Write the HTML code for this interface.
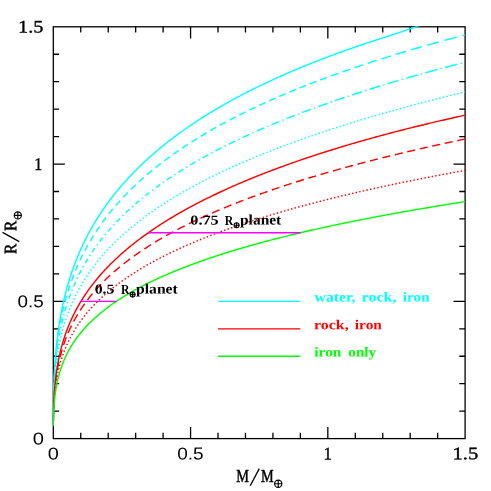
<!DOCTYPE html>
<html><head><meta charset="utf-8"><style>
html,body{margin:0;padding:0;background:#fff;}
body{width:491px;height:491px;overflow:hidden;position:relative;}
svg{position:absolute;left:0;top:0;will-change:transform;}
.sf{font-family:"Liberation Serif",serif;}
.ss{font-family:"Liberation Sans",sans-serif;}
</style></head><body>
<svg width="491" height="491" viewBox="0 0 491 491">
<rect width="491" height="491" fill="#fff"/>
<defs><clipPath id="cp"><rect x="52.65" y="26.15" width="413.10" height="413.10"/></clipPath></defs>
<g stroke="#000" stroke-width="1.3" fill="none">
<rect x="53.3" y="26.8" width="411.80" height="411.80"/>
<path d="M80.75,438.6v-5.8 M80.75,26.8v5.8 M53.3,411.15h5.8 M465.1,411.15h-5.8"/>
<path d="M108.21,438.6v-5.8 M108.21,26.8v5.8 M53.3,383.69h5.8 M465.1,383.69h-5.8"/>
<path d="M135.66,438.6v-5.8 M135.66,26.8v5.8 M53.3,356.24h5.8 M465.1,356.24h-5.8"/>
<path d="M163.11,438.6v-5.8 M163.11,26.8v5.8 M53.3,328.79h5.8 M465.1,328.79h-5.8"/>
<path d="M190.57,438.6v-11.6 M190.57,26.8v11.6 M53.3,301.33h11.6 M465.1,301.33h-11.6"/>
<path d="M218.02,438.6v-5.8 M218.02,26.8v5.8 M53.3,273.88h5.8 M465.1,273.88h-5.8"/>
<path d="M245.47,438.6v-5.8 M245.47,26.8v5.8 M53.3,246.43h5.8 M465.1,246.43h-5.8"/>
<path d="M272.93,438.6v-5.8 M272.93,26.8v5.8 M53.3,218.97h5.8 M465.1,218.97h-5.8"/>
<path d="M300.38,438.6v-5.8 M300.38,26.8v5.8 M53.3,191.52h5.8 M465.1,191.52h-5.8"/>
<path d="M327.83,438.6v-11.6 M327.83,26.8v11.6 M53.3,164.07h11.6 M465.1,164.07h-11.6"/>
<path d="M355.29,438.6v-5.8 M355.29,26.8v5.8 M53.3,136.61h5.8 M465.1,136.61h-5.8"/>
<path d="M382.74,438.6v-5.8 M382.74,26.8v5.8 M53.3,109.16h5.8 M465.1,109.16h-5.8"/>
<path d="M410.19,438.6v-5.8 M410.19,26.8v5.8 M53.3,81.71h5.8 M465.1,81.71h-5.8"/>
<path d="M437.65,438.6v-5.8 M437.65,26.8v5.8 M53.3,54.25h5.8 M465.1,54.25h-5.8"/>
</g>
<g clip-path="url(#cp)">
<path d="M53.31,425.36 L53.31,424.97 L53.31,424.58 L53.31,424.17 L53.31,423.76 L53.31,423.33 L53.32,422.89 L53.32,422.43 L53.32,421.97 L53.32,421.49 L53.32,420.99 L53.32,420.48 L53.33,419.96 L53.33,419.42 L53.33,418.87 L53.33,418.30 L53.34,417.71 L53.34,417.11 L53.34,416.49 L53.35,415.85 L53.35,415.19 L53.35,414.52 L53.36,413.82 L53.36,413.11 L53.37,412.37 L53.38,411.62 L53.38,410.84 L53.39,410.03 L53.40,409.21 L53.41,408.36 L53.42,407.49 L53.43,406.59 L53.44,405.67 L53.45,404.72 L53.47,403.74 L53.48,402.73 L53.50,401.70 L53.51,400.63 L53.53,399.54 L53.55,398.41 L53.58,397.25 L53.60,396.05 L53.63,394.83 L53.66,393.56 L53.69,392.27 L53.72,390.93 L53.76,389.55 L53.80,388.14 L53.85,386.68 L53.90,385.19 L53.95,383.65 L54.01,382.06 L54.07,380.43 L54.14,378.75 L54.21,377.03 L54.30,375.25 L54.38,373.43 L54.48,371.55 L54.59,369.62 L54.70,367.63 L54.83,365.59 L54.96,363.49 L55.11,361.33 L55.27,359.10 L55.45,356.81 L55.64,354.46 L55.85,352.04 L56.07,349.55 L56.32,347.00 L56.59,344.36 L56.88,341.66 L57.20,338.88 L57.55,336.01 L57.93,333.07 L58.34,330.05 L58.79,326.94 L59.28,323.74 L59.82,320.45 L60.40,317.08 L61.03,313.60 L61.72,310.03 L62.47,306.37 L63.29,302.60 L64.18,298.72 L65.15,294.74 L66.21,290.65 L67.08,287.43 L68.14,283.71 L69.21,280.17 L70.27,276.79 L71.33,273.55 L72.39,270.44 L73.45,267.45 L74.52,264.56 L75.58,261.78 L76.64,259.08 L77.70,256.47 L78.76,253.94 L79.83,251.48 L80.89,249.09 L81.95,246.76 L83.01,244.49 L84.08,242.28 L85.14,240.12 L86.20,238.01 L87.26,235.95 L88.32,233.93 L89.39,231.96 L90.45,230.03 L91.51,228.13 L92.57,226.28 L93.63,224.45 L94.70,222.67 L95.76,220.91 L96.82,219.19 L97.88,217.50 L98.94,215.83 L100.01,214.19 L101.07,212.58 L102.13,211.00 L103.19,209.44 L104.25,207.90 L105.32,206.39 L106.38,204.90 L107.44,203.43 L108.50,201.98 L109.57,200.55 L110.63,199.14 L111.69,197.75 L112.75,196.38 L113.81,195.02 L114.88,193.68 L115.94,192.36 L117.00,191.06 L118.06,189.77 L119.12,188.50 L120.19,187.24 L121.25,186.00 L122.31,184.77 L123.37,183.56 L124.43,182.36 L125.50,181.17 L126.56,179.99 L127.62,178.83 L128.68,177.68 L129.74,176.54 L130.81,175.42 L131.87,174.30 L132.93,173.20 L133.99,172.11 L135.06,171.03 L136.12,169.96 L137.18,168.89 L138.24,167.84 L139.30,166.80 L140.37,165.77 L141.43,164.75 L142.49,163.74 L143.55,162.73 L144.61,161.74 L145.68,160.75 L146.74,159.78 L147.80,158.81 L148.86,157.85 L149.92,156.90 L150.99,155.95 L152.05,155.01 L153.11,154.09 L154.17,153.16 L155.24,152.25 L156.30,151.34 L157.36,150.45 L158.42,149.55 L159.48,148.67 L160.55,147.79 L161.61,146.92 L162.67,146.05 L163.73,145.19 L164.79,144.34 L165.86,143.49 L166.92,142.65 L167.98,141.82 L169.04,140.99 L170.10,140.17 L171.17,139.36 L172.23,138.55 L173.29,137.74 L174.35,136.94 L175.41,136.15 L176.48,135.36 L177.54,134.58 L178.60,133.80 L179.66,133.03 L180.73,132.26 L181.79,131.50 L182.85,130.74 L183.91,129.99 L184.97,129.24 L186.04,128.50 L187.10,127.76 L188.16,127.03 L189.22,126.30 L190.28,125.57 L191.35,124.85 L192.41,124.14 L193.47,123.43 L194.53,122.72 L195.59,122.02 L196.66,121.32 L197.72,120.63 L198.78,119.94 L199.84,119.25 L200.90,118.57 L201.97,117.89 L203.03,117.22 L204.09,116.54 L205.15,115.88 L206.22,115.22 L207.28,114.56 L208.34,113.90 L209.40,113.25 L210.46,112.60 L211.53,111.96 L212.59,111.32 L213.65,110.68 L214.71,110.05 L215.77,109.42 L216.84,108.79 L217.90,108.16 L218.96,107.54 L220.02,106.93 L221.08,106.31 L222.15,105.70 L223.21,105.09 L224.27,104.49 L225.33,103.89 L226.40,103.29 L227.46,102.69 L228.52,102.10 L229.58,101.51 L230.64,100.93 L231.71,100.34 L232.77,99.76 L233.83,99.18 L234.89,98.61 L235.95,98.04 L237.02,97.47 L238.08,96.90 L239.14,96.34 L240.20,95.78 L241.26,95.22 L242.33,94.66 L243.39,94.11 L244.45,93.56 L245.51,93.01 L246.57,92.47 L247.64,91.92 L248.70,91.38 L249.76,90.84 L250.82,90.31 L251.89,89.78 L252.95,89.25 L254.01,88.72 L255.07,88.19 L256.13,87.67 L257.20,87.15 L258.26,86.63 L259.32,86.11 L260.38,85.60 L261.44,85.09 L262.51,84.58 L263.57,84.07 L264.63,83.56 L265.69,83.06 L266.75,82.56 L267.82,82.06 L268.88,81.56 L269.94,81.07 L271.00,80.58 L272.07,80.09 L273.13,79.60 L274.19,79.11 L275.25,78.63 L276.31,78.14 L277.38,77.66 L278.44,77.19 L279.50,76.71 L280.56,76.24 L281.62,75.76 L282.69,75.29 L283.75,74.82 L284.81,74.36 L285.87,73.89 L286.93,73.43 L288.00,72.97 L289.06,72.51 L290.12,72.05 L291.18,71.60 L292.24,71.14 L293.31,70.69 L294.37,70.24 L295.43,69.79 L296.49,69.34 L297.56,68.90 L298.62,68.46 L299.68,68.01 L300.74,67.57 L301.80,67.14 L302.87,66.70 L303.93,66.26 L304.99,65.83 L306.05,65.40 L307.11,64.97 L308.18,64.54 L309.24,64.11 L310.30,63.69 L311.36,63.27 L312.42,62.84 L313.49,62.42 L314.55,62.00 L315.61,61.59 L316.67,61.17 L317.73,60.76 L318.80,60.34 L319.86,59.93 L320.92,59.52 L321.98,59.11 L323.05,58.71 L324.11,58.30 L325.17,57.90 L326.23,57.49 L327.29,57.09 L328.36,56.69 L329.42,56.29 L330.48,55.90 L331.54,55.50 L332.60,55.11 L333.67,54.71 L334.73,54.32 L335.79,53.93 L336.85,53.54 L337.91,53.16 L338.98,52.77 L340.04,52.39 L341.10,52.00 L342.16,51.62 L343.23,51.24 L344.29,50.86 L345.35,50.48 L346.41,50.11 L347.47,49.73 L348.54,49.36 L349.60,48.98 L350.66,48.61 L351.72,48.24 L352.78,47.87 L353.85,47.50 L354.91,47.13 L355.97,46.77 L357.03,46.40 L358.09,46.04 L359.16,45.68 L360.22,45.32 L361.28,44.96 L362.34,44.60 L363.40,44.24 L364.47,43.88 L365.53,43.53 L366.59,43.18 L367.65,42.82 L368.72,42.47 L369.78,42.12 L370.84,41.77 L371.90,41.42 L372.96,41.07 L374.03,40.73 L375.09,40.38 L376.15,40.04 L377.21,39.70 L378.27,39.35 L379.34,39.01 L380.40,38.67 L381.46,38.33 L382.52,37.99 L383.58,37.65 L384.65,37.31 L385.71,36.96 L386.77,36.62 L387.83,36.28 L388.90,35.93 L389.96,35.58 L391.02,35.24 L392.08,34.89 L393.14,34.54 L394.21,34.19 L395.27,33.84 L396.33,33.49 L397.39,33.14 L398.45,32.78 L399.52,32.43 L400.58,32.08 L401.64,31.72 L402.70,31.36 L403.76,31.01 L404.83,30.65 L405.89,30.29 L406.95,29.93 L408.01,29.57 L409.07,29.21 L410.14,28.85 L411.20,28.48 L412.26,28.12 L413.32,27.76 L414.39,27.39 L415.45,27.02 L416.51,26.66 L417.57,26.29 L418.63,25.92 L419.70,25.55 L420.76,25.18 L421.82,24.80 L422.88,24.43 L423.94,24.06 L425.01,23.68 L426.07,23.31 L427.13,22.93 L428.19,22.55 L429.25,22.17 L430.32,21.79 L431.38,21.41 L432.44,21.03 L433.50,20.65 L434.56,20.27 L435.63,19.88 L436.69,19.50 L437.75,19.11 L438.81,18.72 L439.88,18.34 L440.94,17.95 L442.00,17.56 L443.06,17.16 L444.12,16.77 L445.19,16.38 L446.25,15.98 L447.31,15.59 L448.37,15.19 L449.43,14.80 L450.50,14.40 L451.56,14.00 L452.62,13.60 L453.68,13.20 L454.74,12.79 L455.81,12.39 L456.87,11.99 L457.93,11.58 L458.99,11.17 L460.06,10.77 L461.12,10.36 L462.18,9.95 L463.24,9.54 L464.30,9.12 L465.10,8.81" fill="none" stroke="#00ffff" stroke-width="1.42"/>
<path d="M465.10,34.93 L464.30,35.13 L463.51,35.34 L462.71,35.55 L462.68,35.56 M456.84,37.09 L456.07,37.30 L455.28,37.51 L454.48,37.72 L453.68,37.93 L452.89,38.14 L452.09,38.36 L451.29,38.57 L450.50,38.78 L449.70,39.00 L448.90,39.21 L448.11,39.43 L447.31,39.64 L446.51,39.86 L445.72,40.07 L444.92,40.29 L444.47,40.41 M438.88,41.94 L438.28,42.11 L437.49,42.33 L436.69,42.55 L435.89,42.77 L435.10,42.99 L434.30,43.21 L433.50,43.43 L432.71,43.65 L431.91,43.88 L431.11,44.10 L430.32,44.32 L429.52,44.55 L428.72,44.77 L427.93,44.99 L427.27,45.18 M421.92,46.70 L421.29,46.88 L420.49,47.11 L419.70,47.34 L418.90,47.57 L418.10,47.80 L417.31,48.03 L416.51,48.26 L415.71,48.49 L414.92,48.72 L414.12,48.96 L413.32,49.19 L412.53,49.42 L411.73,49.65 L411.03,49.86 M405.92,51.37 L405.36,51.54 L404.56,51.78 L403.76,52.01 L402.97,52.25 L402.17,52.49 L401.37,52.73 L400.58,52.97 L399.78,53.21 L398.98,53.45 L398.19,53.69 L397.39,53.93 L396.60,54.18 L395.80,54.42 L395.70,54.45 M390.82,55.95 L390.22,56.13 L389.43,56.38 L388.63,56.63 L387.83,56.87 L387.04,57.12 L386.24,57.37 L385.44,57.62 L384.65,57.87 L383.85,58.12 L383.05,58.37 L382.26,58.62 L381.46,58.87 L381.22,58.95 M376.56,60.43 L375.88,60.65 L375.09,60.91 L374.29,61.16 L373.49,61.42 L372.70,61.68 L371.90,61.94 L371.10,62.19 L370.31,62.45 L369.51,62.71 L368.72,62.97 L367.92,63.23 L367.54,63.36 M363.10,64.82 L362.34,65.08 L361.55,65.34 L360.75,65.61 L359.95,65.87 L359.16,66.14 L358.36,66.41 L357.56,66.68 L356.77,66.95 L355.97,67.22 L355.17,67.49 L354.63,67.67 M350.40,69.12 L349.86,69.30 L349.07,69.58 L348.27,69.85 L347.47,70.13 L346.68,70.40 L345.88,70.68 L345.08,70.96 L344.29,71.24 L343.49,71.52 L342.69,71.80 L342.44,71.89 M338.40,73.32 L337.65,73.59 L336.85,73.87 L336.06,74.16 L335.26,74.44 L334.46,74.73 L333.67,75.02 L332.87,75.30 L332.07,75.59 L331.28,75.88 L330.92,76.01 M327.08,77.42 L326.50,77.63 L325.70,77.93 L324.90,78.22 L324.11,78.52 L323.31,78.81 L322.51,79.11 L321.72,79.41 L320.92,79.71 L320.12,80.01 L320.04,80.04 M316.38,81.42 L315.61,81.72 L314.81,82.02 L314.02,82.33 L313.22,82.63 L312.42,82.94 L311.63,83.25 L310.83,83.56 L310.03,83.87 L309.76,83.97 M306.10,85.40 L305.52,85.63 L304.72,85.95 L303.93,86.26 L303.13,86.58 L302.33,86.89 L301.54,87.21 L300.74,87.53 L299.94,87.85 L299.53,88.02 M295.86,89.50 L295.17,89.78 L294.37,90.11 L293.57,90.44 L292.78,90.76 L291.98,91.09 L291.18,91.42 L290.39,91.75 L289.59,92.08 L289.35,92.18 M285.67,93.72 L285.08,93.97 L284.28,94.31 L283.48,94.65 L282.69,94.99 L281.89,95.33 L281.09,95.67 L280.30,96.01 L279.50,96.35 L279.22,96.47 M275.54,98.07 L274.99,98.31 L274.19,98.66 L273.39,99.01 L272.60,99.36 L271.80,99.72 L271.00,100.07 L270.21,100.42 L269.41,100.78 L269.15,100.90 M265.47,102.56 L264.90,102.82 L264.10,103.18 L263.30,103.54 L262.51,103.91 L261.71,104.27 L260.91,104.64 L260.12,105.01 L259.32,105.38 L259.14,105.46 M255.46,107.19 L254.81,107.49 L254.01,107.87 L253.21,108.25 L252.42,108.63 L251.62,109.01 L250.82,109.39 L250.03,109.78 L249.23,110.16 L249.21,110.17 M245.52,111.97 L244.98,112.24 L244.19,112.63 L243.39,113.02 L242.59,113.42 L241.80,113.81 L241.00,114.21 L240.20,114.61 L239.41,115.01 L239.34,115.04 M235.67,116.91 L234.89,117.31 L234.10,117.72 L233.30,118.13 L232.50,118.54 L231.71,118.96 L230.91,119.37 L230.11,119.79 L229.56,120.08 M225.90,122.02 L225.33,122.33 L224.54,122.76 L223.74,123.19 L222.94,123.62 L222.15,124.05 L221.35,124.48 L220.55,124.92 L219.88,125.29 M216.23,127.32 L215.51,127.72 L214.71,128.17 L213.92,128.62 L213.12,129.07 L212.32,129.52 L211.53,129.98 L210.73,130.44 L210.29,130.69 M206.66,132.80 L205.95,133.22 L205.15,133.69 L204.36,134.16 L203.56,134.64 L202.76,135.11 L201.97,135.59 L201.17,136.07 L200.82,136.28 M197.21,138.48 L196.66,138.83 L195.86,139.32 L195.06,139.82 L194.27,140.32 L193.47,140.82 L192.67,141.32 L191.88,141.82 L191.47,142.08 M187.90,144.38 L187.36,144.73 L186.57,145.25 L185.77,145.77 L184.97,146.30 L184.18,146.82 L183.38,147.35 L182.58,147.89 L182.27,148.10 M178.73,150.50 L178.07,150.95 L177.27,151.50 L176.48,152.05 L175.68,152.61 L174.88,153.17 L174.09,153.73 L173.29,154.29 L173.21,154.35 M169.72,156.85 L169.04,157.35 L168.25,157.93 L167.45,158.52 L166.65,159.10 L165.86,159.70 L165.06,160.29 L164.33,160.84 M160.89,163.46 L160.28,163.93 L159.48,164.55 L158.69,165.17 L157.89,165.80 L157.09,166.43 L156.30,167.06 L155.64,167.58 M152.27,170.32 L151.52,170.94 L150.72,171.60 L149.92,172.26 L149.13,172.93 L148.33,173.60 L147.53,174.28 L147.17,174.59 M143.86,177.45 L143.29,177.96 L142.49,178.67 L141.69,179.37 L140.90,180.09 L140.10,180.81 L139.30,181.53 L138.93,181.88 M135.71,184.87 L135.06,185.48 L134.26,186.24 L133.46,187.00 L132.67,187.77 L131.87,188.55 L131.07,189.33 L130.95,189.45 M127.83,192.57 L127.09,193.32 L126.29,194.14 L125.50,194.96 L124.70,195.79 L123.90,196.63 L123.26,197.32 M120.25,200.57 L119.66,201.22 L118.86,202.11 L118.06,203.00 L117.27,203.90 L116.47,204.81 L115.89,205.48 M113.00,208.87 L112.22,209.81 L111.42,210.77 L110.63,211.75 L109.83,212.73 L109.03,213.73 L108.86,213.94 M106.11,217.47 L105.58,218.17 L104.79,219.22 L103.99,220.29 L103.19,221.37 L102.40,222.46 L102.22,222.71 M99.62,226.37 L98.94,227.34 L98.15,228.50 L97.35,229.68 L96.55,230.88 L95.97,231.76 M93.54,235.55 L92.84,236.67 L92.04,237.96 L91.24,239.27 L90.45,240.60 L90.16,241.10 M87.90,245.01 L87.26,246.14 L86.46,247.58 L85.67,249.05 L84.87,250.54 L84.79,250.70 M82.71,254.73 L81.95,256.26 L81.15,257.89 L80.36,259.55 L79.89,260.54 M78.00,264.68 L77.44,265.96 L76.64,267.80 L75.84,269.69 L75.46,270.61 M73.77,274.85 L73.19,276.34 L72.39,278.46 L71.60,280.64 L71.51,280.88 M70.01,285.19 L69.47,286.80 L68.67,289.25 L68.03,291.31 M66.71,295.70 L65.93,298.44 L65.15,301.32 L65.00,301.89 M63.87,306.33 L63.29,308.73 L62.67,311.40 L62.41,312.57 M61.45,317.07 L61.03,319.12 L60.55,321.59 L60.22,323.35 M59.42,327.89 L59.16,329.48 L58.79,331.74 L58.45,333.96 L58.42,334.20 M57.77,338.76 L57.55,340.35 L57.29,342.40 L57.04,344.40 L56.96,345.11 M56.44,349.69 L56.26,351.40 L56.07,353.22 L55.90,355.01 L55.80,356.05 M55.41,360.64 L55.31,361.78 L55.19,363.39 L55.07,364.96 L54.96,366.50 L54.93,367.01 M54.63,371.62 L54.56,372.82 L54.48,374.20 L54.41,375.55 L54.34,376.88 L54.28,377.99 M54.07,382.60 L54.04,383.48 L53.99,384.64 L53.95,385.77 L53.91,386.88 L53.87,387.97 L53.84,388.98 M53.70,393.60 L53.68,394.35 L53.66,395.28 L53.64,396.19 L53.61,397.08 L53.59,397.96 L53.58,398.81 L53.56,399.65 L53.55,399.98 M53.47,404.60 L53.46,405.28 L53.45,405.98 L53.44,406.67 L53.43,407.34 L53.43,408.00 L53.42,408.65 L53.41,409.28 L53.40,409.90 L53.40,410.50 L53.39,410.98 M53.35,415.60 L53.35,416.06 L53.35,416.53 L53.34,417.00 L53.34,417.46 L53.34,417.90 L53.34,418.34 L53.33,418.77 L53.33,419.19 L53.33,419.60 L53.33,420.00 L53.33,420.39 L53.32,420.77 L53.32,421.15 L53.32,421.52 L53.32,421.88 L53.32,421.98 " fill="none" stroke="#00ffff" stroke-width="1.42"/>
<path d="M461.90,63.07 L461.12,63.27 L460.55,63.42 M457.35,64.24 L456.60,64.44 L455.81,64.65 L455.01,64.86 L454.21,65.06 L453.42,65.27 L452.62,65.48 L451.82,65.69 L451.03,65.90 L450.23,66.11 L449.43,66.32 L448.64,66.53 L447.84,66.74 L447.04,66.96 L446.25,67.17 L445.45,67.38 L444.96,67.51 M441.78,68.36 L441.20,68.52 L440.42,68.73 M437.24,69.59 L436.69,69.74 L435.89,69.95 L435.10,70.17 L434.30,70.39 L433.50,70.60 L432.71,70.82 L431.91,71.04 L431.11,71.26 L430.32,71.48 L429.52,71.69 L428.72,71.91 L427.93,72.13 L427.13,72.35 L426.33,72.57 L425.54,72.80 L425.36,72.84 M422.18,73.73 L421.55,73.91 L420.83,74.11 M417.66,75.00 L417.04,75.18 L416.24,75.40 L415.45,75.63 L414.65,75.85 L413.85,76.08 L413.06,76.31 L412.26,76.53 L411.46,76.76 L410.67,76.99 L409.87,77.22 L409.07,77.45 L408.28,77.68 L407.48,77.91 L406.69,78.14 L406.28,78.25 M403.11,79.17 L402.44,79.37 L401.77,79.56 M398.60,80.49 L397.92,80.69 L397.13,80.93 L396.33,81.16 L395.53,81.40 L394.74,81.64 L393.94,81.87 L393.14,82.11 L392.35,82.35 L391.55,82.59 L390.75,82.82 L389.96,83.06 L389.16,83.30 L388.36,83.54 L387.72,83.74 M384.56,84.69 L383.85,84.91 L383.22,85.10 M380.07,86.07 L379.34,86.29 L378.54,86.54 L377.74,86.78 L376.95,87.03 L376.15,87.28 L375.35,87.52 L374.56,87.77 L373.76,88.02 L372.96,88.27 L372.17,88.52 L371.37,88.77 L370.57,89.02 L369.78,89.27 L369.66,89.30 M366.52,90.30 L365.79,90.53 L365.18,90.72 M362.04,91.73 L361.28,91.97 L360.48,92.23 L359.69,92.48 L358.89,92.74 L358.09,93.00 L357.30,93.26 L356.50,93.52 L355.70,93.78 L354.91,94.04 L354.11,94.30 L353.31,94.56 L352.52,94.82 L352.10,94.96 M348.97,95.99 L348.27,96.23 L347.64,96.43 M344.51,97.48 L343.76,97.74 L342.96,98.00 L342.16,98.27 L341.37,98.54 L340.57,98.81 L339.77,99.08 L338.98,99.35 L338.18,99.63 L337.38,99.90 L336.59,100.17 L335.79,100.45 L335.03,100.71 M331.92,101.78 L331.28,102.01 L330.59,102.24 M327.48,103.34 L326.76,103.59 L325.97,103.87 L325.17,104.15 L324.37,104.43 L323.58,104.72 L322.78,105.00 L321.98,105.28 L321.19,105.57 L320.39,105.85 L319.59,106.14 L318.80,106.43 L318.45,106.55 M315.34,107.68 L315.08,107.77 L314.81,107.87 L314.55,107.97 L314.28,108.07 L314.03,108.16 M310.93,109.30 L310.30,109.53 L309.50,109.82 L308.71,110.12 L307.91,110.42 L307.11,110.71 L306.32,111.01 L305.52,111.31 L304.72,111.61 L303.93,111.91 L303.13,112.21 L302.33,112.51 M299.25,113.68 L298.62,113.93 L297.94,114.18 M294.86,115.37 L294.10,115.67 L293.31,115.98 L292.51,116.29 L291.71,116.60 L290.92,116.91 L290.12,117.22 L289.32,117.54 L288.53,117.85 L287.73,118.17 L286.93,118.48 L286.69,118.58 M283.63,119.81 L282.95,120.08 L282.33,120.33 M279.27,121.57 L278.70,121.80 L277.91,122.13 L277.11,122.45 L276.31,122.78 L275.52,123.11 L274.72,123.44 L273.92,123.77 L273.13,124.10 L272.33,124.43 L271.53,124.77 L271.52,124.77 M268.48,126.05 L267.82,126.33 L267.19,126.60 M264.15,127.90 L263.57,128.15 L262.77,128.49 L261.98,128.84 L261.18,129.18 L260.38,129.53 L259.59,129.88 L258.79,130.23 L257.99,130.58 L257.20,130.93 L256.81,131.10 M253.79,132.44 L253.21,132.70 L252.51,133.01 M249.51,134.37 L248.96,134.61 L248.17,134.98 L247.37,135.34 L246.57,135.71 L245.78,136.07 L244.98,136.44 L244.19,136.81 L243.39,137.18 L242.59,137.55 L242.56,137.57 M239.57,138.97 L238.87,139.30 L238.31,139.57 M235.33,140.99 L234.63,141.32 L233.83,141.71 L233.03,142.10 L232.24,142.48 L231.44,142.87 L230.64,143.26 L229.85,143.65 L229.05,144.04 L228.77,144.18 M225.81,145.65 L225.60,145.76 L225.33,145.89 L225.07,146.02 L224.80,146.16 L224.56,146.28 M221.62,147.77 L221.08,148.04 L220.29,148.45 L219.49,148.86 L218.69,149.27 L217.90,149.68 L217.10,150.09 L216.31,150.51 L215.51,150.93 L215.44,150.96 M212.52,152.50 L212.32,152.61 L212.06,152.75 L211.79,152.89 L211.53,153.03 L211.29,153.16 M208.38,154.72 L207.81,155.03 L207.01,155.47 L206.22,155.90 L205.42,156.34 L204.62,156.78 L203.83,157.22 L203.03,157.66 L202.58,157.91 M199.70,159.53 L199.05,159.90 L198.48,160.22 M195.62,161.86 L195.06,162.18 L194.27,162.64 L193.47,163.11 L192.67,163.58 L191.88,164.04 L191.08,164.51 L190.28,164.99 L190.18,165.05 M187.35,166.75 L187.10,166.90 L186.83,167.06 L186.57,167.22 L186.30,167.38 L186.15,167.47 M183.34,169.20 L182.58,169.66 L181.79,170.16 L180.99,170.66 L180.19,171.16 L179.40,171.66 L178.60,172.16 L178.26,172.38 M175.48,174.16 L174.88,174.55 L174.31,174.93 M171.55,176.74 L170.90,177.17 L170.10,177.70 L169.31,178.24 L168.51,178.77 L167.71,179.31 L166.92,179.85 L166.82,179.92 M164.10,181.80 L164.00,181.87 L163.73,182.05 L163.47,182.24 L163.20,182.42 L162.96,182.60 M160.26,184.50 L159.48,185.06 L158.69,185.63 L157.89,186.21 L157.09,186.79 L156.30,187.37 L155.88,187.68 M153.23,189.65 L153.11,189.74 L152.85,189.94 L152.58,190.14 L152.31,190.34 L152.11,190.49 M149.49,192.50 L148.86,192.98 L148.07,193.60 L147.27,194.23 L146.47,194.85 L145.68,195.49 L145.44,195.67 M142.87,197.74 L142.76,197.84 L142.49,198.05 L142.22,198.27 L141.96,198.49 L141.79,198.63 M139.25,200.74 L138.51,201.36 L137.71,202.03 L136.91,202.71 L136.12,203.40 L135.44,203.98 M132.96,206.16 L132.93,206.18 L132.67,206.42 L132.40,206.65 L132.13,206.89 L131.91,207.09 M129.47,209.30 L128.68,210.02 L127.89,210.76 L127.09,211.51 L126.29,212.26 L125.81,212.71 M123.43,215.00 L123.37,215.06 L123.11,215.32 L122.84,215.57 L122.58,215.83 L122.43,215.98 M120.09,218.31 L119.39,219.02 L118.59,219.83 L117.80,220.65 L117.00,221.48 L116.60,221.89 M114.34,224.29 L114.08,224.57 L113.81,224.86 L113.55,225.15 L113.39,225.32 M111.18,227.76 L110.63,228.38 L109.83,229.28 L109.03,230.19 L108.24,231.11 L107.88,231.53 M105.75,234.05 L105.58,234.25 L105.32,234.57 L105.05,234.89 L104.86,235.13 M102.78,237.69 L102.13,238.51 L101.33,239.52 L100.54,240.54 L99.74,241.58 L99.70,241.63 M97.72,244.27 L97.62,244.41 L97.35,244.77 L97.09,245.14 L96.89,245.40 M94.97,248.08 L94.43,248.85 L93.63,250.00 L92.84,251.16 L92.14,252.20 M90.32,254.95 L90.18,255.16 L89.92,255.57 L89.65,255.99 L89.56,256.13 M87.81,258.92 L87.26,259.81 L86.46,261.13 L85.67,262.47 L85.23,263.21 M83.59,266.07 L83.54,266.16 L83.28,266.63 L83.01,267.11 L82.91,267.30 M81.34,270.20 L80.62,271.55 L79.83,273.09 L79.04,274.64 M77.59,277.60 L77.44,277.92 L77.17,278.48 L76.99,278.87 M75.60,281.86 L75.05,283.10 L74.25,284.92 L73.60,286.44 M72.34,289.49 L72.13,290.01 L71.86,290.67 L71.81,290.79 M70.62,293.87 L70.00,295.53 L69.21,297.72 L68.91,298.56 M67.84,301.69 L67.61,302.35 L67.40,303.01 M66.39,306.16 L65.67,308.54 L64.96,310.95 M64.07,314.13 L63.95,314.58 L63.72,315.42 L63.71,315.48 M62.89,318.67 L62.47,320.36 L61.90,322.76 L61.72,323.54 M61.01,326.76 L60.87,327.41 L60.72,328.13 M60.06,331.36 L59.68,333.34 L59.28,335.49 L59.14,336.28 M58.58,339.53 L58.56,339.65 L58.45,340.33 L58.36,340.91 M57.85,344.17 L57.64,345.59 L57.37,347.50 L57.15,349.12 M56.73,352.40 L56.66,352.99 L56.59,353.58 L56.57,353.79 M56.19,357.06 L56.02,358.71 L55.85,360.35 L55.69,361.96 L55.68,362.04 M55.38,365.32 L55.36,365.60 L55.31,366.10 L55.27,366.60 L55.26,366.72 M55.00,370.01 L54.93,370.97 L54.83,372.37 L54.73,373.74 L54.65,375.00 M54.45,378.29 L54.43,378.53 L54.41,378.94 L54.38,379.36 L54.37,379.69 M54.19,382.98 L54.14,384.12 L54.09,385.25 L54.04,386.36 L53.99,387.45 L53.97,387.98 M53.85,391.28 L53.84,391.57 L53.82,391.90 L53.81,392.22 L53.80,392.55 L53.80,392.68 M53.70,395.97 L53.67,396.86 L53.65,397.73 L53.63,398.58 L53.61,399.41 L53.59,400.23 L53.57,400.97 M53.51,404.27 L53.50,404.80 L53.48,405.50 L53.48,405.67 M53.43,408.97 L53.43,409.45 L53.42,410.06 L53.41,410.65 L53.40,411.24 L53.40,411.81 L53.39,412.37 L53.39,412.92 L53.38,413.46 L53.38,413.97 M53.35,417.27 L53.35,417.68 L53.34,418.12 L53.34,418.55 L53.34,418.67 M53.32,421.97 L53.32,422.27 L53.32,422.62 L53.32,422.95 L53.32,423.28 L53.32,423.60 L53.32,423.92 L53.31,424.23 L53.31,424.53 L53.31,424.83 L53.31,425.12 L53.31,425.40 " fill="none" stroke="#00ffff" stroke-width="1.42"/>
<path d="M465.10,91.89 L464.83,91.96 L464.57,92.02 L464.32,92.08 M462.18,92.60 L461.65,92.73 L460.85,92.93 L460.73,92.96 M458.59,93.48 L457.93,93.64 L457.13,93.83 L457.13,93.83 M455.00,94.36 L454.21,94.55 L453.54,94.72 M451.40,95.25 L450.76,95.41 L449.97,95.61 L449.95,95.61 M447.81,96.14 L447.04,96.34 L446.36,96.51 M444.23,97.04 L443.59,97.20 L442.80,97.40 L442.77,97.41 M440.64,97.95 L439.88,98.14 L439.18,98.32 M437.05,98.86 L436.42,99.02 L435.63,99.22 L435.60,99.23 M433.47,99.78 L432.71,99.97 L432.02,100.15 M429.89,100.70 L429.25,100.87 L428.46,101.07 L428.43,101.08 M426.30,101.63 L425.54,101.83 L424.85,102.01 M422.73,102.57 L422.09,102.74 L421.29,102.95 L421.27,102.95 M419.15,103.51 L418.37,103.72 L417.70,103.90 M415.57,104.46 L414.92,104.64 L414.12,104.85 M412.00,105.42 L411.46,105.56 L410.67,105.78 L410.55,105.81 M408.42,106.38 L407.75,106.57 L406.98,106.78 M404.85,107.36 L404.30,107.51 L403.50,107.73 L403.41,107.75 M401.29,108.33 L400.58,108.53 L399.84,108.73 M397.72,109.32 L397.13,109.48 L396.33,109.70 L396.27,109.72 M394.15,110.31 L393.41,110.52 L392.71,110.71 M390.59,111.31 L389.96,111.49 L389.16,111.71 L389.15,111.72 M387.03,112.32 L386.24,112.54 L385.59,112.73 M383.47,113.33 L382.79,113.53 L382.03,113.74 M379.92,114.35 L379.34,114.52 L378.54,114.75 L378.48,114.77 M376.36,115.38 L375.62,115.60 L374.92,115.80 M372.81,116.42 L372.17,116.61 L371.37,116.84 M369.26,117.46 L368.72,117.63 L367.92,117.86 L367.83,117.89 M365.72,118.52 L365.00,118.73 L364.28,118.95 M362.17,119.58 L361.55,119.77 L360.75,120.01 L360.74,120.01 M358.63,120.65 L358.09,120.82 L357.30,121.06 L357.20,121.09 M355.09,121.73 L354.38,121.95 L353.66,122.17 M351.56,122.82 L350.93,123.02 L350.13,123.26 L350.12,123.26 M348.02,123.92 L347.47,124.09 L346.68,124.34 L346.59,124.36 M344.49,125.02 L343.76,125.26 L343.06,125.47 M340.96,126.14 L340.30,126.35 L339.53,126.59 M337.44,127.26 L336.85,127.45 L336.06,127.71 L336.01,127.72 M333.92,128.40 L333.14,128.65 L332.49,128.86 M330.40,129.54 L329.68,129.78 L328.97,130.01 M326.88,130.70 L326.23,130.91 L325.46,131.17 M323.37,131.86 L322.78,132.06 L321.98,132.33 L321.95,132.34 M319.86,133.04 L319.33,133.22 L318.53,133.49 L318.44,133.52 M316.36,134.22 L315.61,134.48 L314.94,134.71 M312.86,135.42 L312.16,135.66 L311.44,135.91 M309.36,136.62 L308.71,136.85 L307.94,137.12 M305.86,137.84 L305.26,138.06 L304.46,138.34 L304.45,138.34 M302.37,139.07 L301.80,139.27 L301.01,139.56 L300.96,139.57 M298.89,140.31 L298.35,140.50 L297.56,140.79 L297.48,140.82 M295.41,141.56 L294.63,141.84 L294.00,142.08 M291.93,142.83 L291.18,143.10 L290.52,143.35 M288.46,144.11 L287.73,144.37 L287.05,144.63 M284.99,145.39 L284.28,145.66 L283.58,145.92 M281.53,146.70 L280.83,146.96 L280.12,147.23 M278.07,148.01 L277.38,148.28 L276.67,148.55 M274.61,149.34 L273.92,149.61 L273.22,149.88 M271.17,150.68 L270.47,150.95 L269.77,151.23 M267.72,152.04 L267.02,152.32 L266.33,152.59 M264.29,153.41 L263.57,153.69 L262.89,153.97 M260.85,154.79 L260.12,155.09 L259.46,155.36 M257.43,156.19 L256.66,156.50 L256.04,156.76 M254.01,157.60 L253.21,157.93 L252.62,158.18 M250.60,159.03 L250.03,159.27 L249.23,159.61 L249.21,159.62 M247.19,160.48 L246.57,160.74 L245.81,161.07 M243.79,161.94 L243.12,162.23 L242.41,162.53 M240.40,163.41 L239.67,163.73 L239.02,164.02 M237.01,164.91 L236.22,165.26 L235.64,165.52 M233.64,166.42 L233.03,166.69 L232.27,167.04 M230.27,167.95 L229.58,168.26 L228.90,168.57 M226.90,169.49 L226.13,169.85 L225.54,170.13 M223.55,171.06 L222.94,171.34 L222.19,171.70 M220.21,172.64 L219.49,172.98 L218.85,173.29 M216.87,174.24 L216.31,174.52 L215.52,174.90 M213.55,175.87 L212.85,176.21 L212.20,176.53 M210.23,177.51 L209.67,177.79 L208.89,178.18 M206.93,179.17 L206.22,179.53 L205.59,179.85 M203.63,180.86 L203.03,181.17 L202.30,181.54 M200.35,182.56 L199.58,182.97 L199.02,183.26 M197.08,184.29 L196.39,184.65 L195.75,185.00 M193.82,186.04 L193.20,186.37 L192.50,186.76 M190.57,187.81 L190.02,188.12 L189.26,188.54 M187.34,189.61 L186.57,190.04 L186.03,190.35 M184.12,191.43 L183.38,191.85 L182.81,192.18 M180.91,193.28 L180.19,193.69 L179.61,194.03 M177.72,195.15 L177.01,195.57 L176.43,195.92 M174.54,197.05 L173.82,197.48 L173.26,197.83 M171.38,198.97 L171.17,199.11 L170.90,199.27 L170.64,199.43 L170.37,199.60 L170.11,199.76 M168.24,200.93 L167.98,201.09 L167.71,201.25 L167.45,201.42 L167.18,201.59 L166.97,201.72 M165.11,202.91 L164.53,203.28 L163.85,203.72 M162.01,204.91 L161.34,205.35 L160.75,205.74 M158.92,206.95 L158.69,207.11 L158.42,207.29 L158.16,207.46 L157.89,207.64 L157.67,207.79 M155.85,209.02 L155.24,209.44 L154.61,209.87 M152.80,211.12 L152.58,211.28 L152.31,211.46 L152.05,211.65 L151.78,211.84 L151.58,211.98 M149.78,213.25 L149.13,213.72 L148.56,214.13 M146.78,215.42 L146.21,215.83 L145.57,216.30 M143.80,217.61 L143.55,217.80 L143.29,218.00 L143.02,218.20 L142.76,218.40 L142.60,218.51 M140.85,219.84 L140.63,220.01 L140.37,220.21 L140.10,220.42 L139.83,220.62 L139.66,220.76 M137.92,222.11 L137.71,222.27 L137.45,222.48 L137.18,222.69 L136.91,222.90 L136.74,223.04 M135.02,224.41 L134.79,224.60 L134.52,224.81 L134.26,225.03 L133.99,225.24 L133.86,225.35 M132.16,226.74 L131.60,227.20 L131.00,227.70 M129.32,229.12 L129.21,229.20 L128.95,229.43 L128.68,229.65 L128.42,229.88 L128.17,230.09 M126.51,231.53 L126.29,231.71 L126.03,231.95 L125.76,232.18 L125.50,232.41 L125.38,232.51 M123.73,233.97 L123.64,234.06 L123.37,234.30 L123.11,234.54 L122.84,234.78 L122.62,234.98 M120.99,236.46 L120.45,236.96 L119.89,237.48 M118.29,238.99 L118.06,239.20 L117.80,239.46 L117.53,239.71 L117.27,239.96 L117.20,240.02 M115.62,241.55 L115.41,241.76 L115.14,242.03 L114.88,242.29 L114.61,242.55 L114.55,242.60 M113.00,244.16 L112.75,244.41 L112.49,244.67 L112.22,244.94 L111.95,245.21 L111.94,245.23 M110.41,246.80 L110.36,246.86 L110.10,247.13 L109.83,247.41 L109.57,247.69 L109.38,247.89 M107.87,249.49 L107.71,249.67 L107.44,249.95 L107.18,250.24 L106.91,250.53 L106.85,250.59 M105.37,252.22 L105.32,252.28 L105.05,252.58 L104.79,252.87 L104.52,253.17 L104.37,253.34 M102.92,254.99 L102.66,255.29 L102.40,255.60 L102.13,255.90 L101.94,256.13 M100.52,257.81 L100.27,258.10 L100.01,258.42 L99.74,258.73 L99.56,258.96 M98.16,260.66 L98.15,260.68 L97.88,261.01 L97.62,261.34 L97.35,261.67 L97.22,261.83 M95.86,263.56 L95.76,263.69 L95.49,264.03 L95.23,264.38 L94.96,264.72 L94.94,264.74 M93.61,266.50 L93.37,266.83 L93.10,267.18 L92.84,267.54 L92.72,267.70 M91.42,269.48 L91.24,269.72 L90.98,270.10 L90.71,270.47 L90.55,270.70 M89.29,272.50 L89.12,272.74 L88.85,273.13 L88.59,273.52 L88.44,273.74 M87.21,275.56 L87.00,275.89 L86.73,276.29 L86.46,276.70 L86.39,276.82 M85.20,278.67 L85.14,278.76 L84.87,279.18 L84.61,279.60 L84.40,279.94 M83.24,281.81 L83.01,282.19 L82.75,282.63 L82.48,283.07 L82.47,283.09 M81.35,284.99 L81.15,285.34 L80.89,285.80 L80.62,286.26 L80.61,286.29 M79.53,288.21 L79.30,288.63 L79.03,289.12 L78.81,289.52 M77.77,291.46 L77.70,291.60 L77.44,292.10 L77.17,292.61 L77.08,292.79 M76.08,294.76 L75.84,295.23 L75.58,295.77 L75.41,296.10 M74.46,298.08 L74.25,298.51 L73.99,299.08 L73.82,299.44 M72.90,301.44 L72.66,301.98 L72.39,302.58 L72.29,302.81 M71.41,304.82 L71.33,305.02 L71.06,305.65 L70.83,306.21 M70.00,308.24 L69.74,308.89 L69.47,309.56 L69.44,309.64 M68.65,311.69 L68.41,312.32 L68.14,313.03 L68.12,313.09 M67.37,315.16 L67.35,315.22 L67.08,315.96 L67.06,316.03 L66.87,316.57 M66.16,318.65 L65.93,319.32 L65.68,320.08 M65.01,322.17 L64.90,322.53 L64.65,323.32 L64.57,323.61 M63.93,325.71 L63.72,326.43 L63.51,327.15 M62.92,329.27 L62.87,329.45 L62.67,330.20 L62.53,330.72 M61.97,332.85 L61.90,333.13 L61.72,333.85 L61.61,334.30 M61.09,336.44 L61.03,336.68 L60.87,337.38 L60.75,337.90 M60.26,340.05 L60.25,340.12 L60.10,340.79 L59.96,341.46 L59.95,341.51 M59.50,343.67 L59.41,344.10 L59.28,344.75 L59.21,345.14 M58.79,347.30 L58.68,347.92 L58.56,348.55 L58.52,348.77 M58.14,350.94 L58.13,351.00 L58.03,351.60 L57.93,352.20 L57.89,352.42 M57.55,354.59 L57.46,355.13 L57.37,355.70 L57.32,356.08 M57.00,358.25 L56.96,358.52 L56.88,359.07 L56.81,359.62 L56.79,359.74 M56.50,361.92 L56.45,362.31 L56.39,362.84 L56.32,363.36 L56.32,363.41 M56.05,365.59 L56.02,365.92 L55.96,366.43 L55.90,366.93 L55.88,367.08 M55.65,369.27 L55.64,369.37 L55.59,369.85 L55.54,370.33 L55.50,370.76 M55.29,372.95 L55.27,373.12 L55.23,373.57 L55.19,374.02 L55.15,374.45 M54.96,376.64 L54.96,376.66 L54.93,377.09 L54.89,377.52 L54.86,377.94 L54.84,378.13 M54.68,380.33 L54.67,380.43 L54.64,380.83 L54.61,381.23 L54.59,381.63 L54.57,381.82 M54.43,384.02 L54.41,384.35 L54.38,384.73 L54.36,385.10 L54.34,385.47 L54.34,385.52 M54.21,387.71 L54.19,388.01 L54.18,388.36 L54.16,388.71 L54.14,389.06 L54.13,389.21 M54.02,391.41 L53.99,392.09 L53.96,392.91 M53.86,395.10 L53.84,395.84 L53.81,396.60 M53.73,398.80 L53.71,399.57 L53.68,400.30 M53.62,402.50 L53.60,403.23 L53.58,403.96 L53.58,404.00 M53.53,406.20 L53.52,406.77 L53.51,407.43 L53.50,407.70 M53.46,409.90 L53.45,410.36 L53.44,410.95 L53.44,411.40 M53.41,413.60 L53.40,414.08 L53.39,414.59 L53.39,415.09 L53.39,415.10 M53.36,417.30 L53.36,417.61 L53.36,418.05 L53.35,418.48 L53.35,418.80 M53.34,421.00 L53.33,421.26 L53.33,421.62 L53.33,421.98 L53.33,422.33 L53.33,422.50 M53.32,424.70 L53.32,424.97 L53.32,425.25 L53.32,425.35 " fill="none" stroke="#00ffff" stroke-width="1.42"/>
<path d="M53.32,425.35 L53.33,424.97 L53.33,424.58 L53.33,424.17 L53.33,423.76 L53.34,423.33 L53.34,422.89 L53.35,422.43 L53.35,421.97 L53.35,421.49 L53.36,420.99 L53.36,420.48 L53.37,419.96 L53.38,419.42 L53.38,418.87 L53.39,418.30 L53.40,417.71 L53.41,417.11 L53.42,416.49 L53.43,415.85 L53.44,415.19 L53.45,414.52 L53.46,413.82 L53.48,413.11 L53.49,412.37 L53.51,411.61 L53.53,410.83 L53.55,410.03 L53.57,409.21 L53.59,408.36 L53.62,407.48 L53.65,406.59 L53.68,405.66 L53.71,404.71 L53.75,403.73 L53.79,402.72 L53.84,401.69 L53.88,400.62 L53.94,399.53 L53.99,398.40 L54.05,397.24 L54.12,396.04 L54.19,394.81 L54.27,393.55 L54.36,392.25 L54.46,390.91 L54.56,389.53 L54.67,388.12 L54.79,386.66 L54.93,385.16 L55.07,383.62 L55.23,382.03 L55.40,380.39 L55.59,378.71 L55.79,376.98 L56.02,375.21 L56.26,373.38 L56.52,371.49 L56.81,369.56 L57.12,367.56 L57.46,365.51 L57.83,363.40 L58.24,361.23 L58.68,359.00 L59.16,356.70 L59.68,354.34 L60.25,351.91 L60.87,349.41 L61.54,346.84 L62.28,344.19 L63.08,341.47 L63.95,338.67 L64.90,335.79 L65.93,332.83 L67.06,329.78 L67.88,327.67 L68.94,325.04 L70.00,322.54 L71.06,320.14 L72.13,317.83 L73.19,315.61 L74.25,313.47 L75.31,311.40 L76.37,309.39 L77.44,307.45 L78.50,305.56 L79.56,303.73 L80.62,301.94 L81.69,300.21 L82.75,298.51 L83.81,296.86 L84.87,295.24 L85.93,293.67 L87.00,292.12 L88.06,290.61 L89.12,289.13 L90.18,287.68 L91.24,286.26 L92.31,284.86 L93.37,283.49 L94.43,282.15 L95.49,280.82 L96.55,279.52 L97.62,278.25 L98.68,276.99 L99.74,275.75 L100.80,274.53 L101.87,273.33 L102.93,272.15 L103.99,270.99 L105.05,269.84 L106.11,268.71 L107.18,267.59 L108.24,266.49 L109.30,265.41 L110.36,264.33 L111.42,263.27 L112.49,262.23 L113.55,261.20 L114.61,260.18 L115.67,259.17 L116.73,258.17 L117.80,257.19 L118.86,256.21 L119.92,255.25 L120.98,254.30 L122.04,253.36 L123.11,252.43 L124.17,251.50 L125.23,250.59 L126.29,249.69 L127.36,248.79 L128.42,247.91 L129.48,247.03 L130.54,246.17 L131.60,245.31 L132.67,244.45 L133.73,243.61 L134.79,242.78 L135.85,241.95 L136.91,241.13 L137.98,240.31 L139.04,239.51 L140.10,238.71 L141.16,237.92 L142.22,237.13 L143.29,236.35 L144.35,235.58 L145.41,234.81 L146.47,234.06 L147.53,233.30 L148.60,232.55 L149.66,231.81 L150.72,231.08 L151.78,230.35 L152.85,229.62 L153.91,228.90 L154.97,228.19 L156.03,227.48 L157.09,226.78 L158.16,226.08 L159.22,225.38 L160.28,224.70 L161.34,224.01 L162.40,223.33 L163.47,222.66 L164.53,221.99 L165.59,221.33 L166.65,220.67 L167.71,220.01 L168.78,219.36 L169.84,218.71 L170.90,218.07 L171.96,217.43 L173.03,216.80 L174.09,216.17 L175.15,215.54 L176.21,214.92 L177.27,214.30 L178.34,213.69 L179.40,213.07 L180.46,212.47 L181.52,211.86 L182.58,211.26 L183.65,210.67 L184.71,210.08 L185.77,209.49 L186.83,208.90 L187.89,208.32 L188.96,207.74 L190.02,207.16 L191.08,206.59 L192.14,206.02 L193.20,205.46 L194.27,204.89 L195.33,204.33 L196.39,203.78 L197.45,203.22 L198.52,202.67 L199.58,202.13 L200.64,201.58 L201.70,201.04 L202.76,200.50 L203.83,199.96 L204.89,199.43 L205.95,198.90 L207.01,198.37 L208.07,197.85 L209.14,197.33 L210.20,196.81 L211.26,196.29 L212.32,195.78 L213.38,195.26 L214.45,194.75 L215.51,194.25 L216.57,193.74 L217.63,193.24 L218.69,192.74 L219.76,192.24 L220.82,191.75 L221.88,191.26 L222.94,190.77 L224.01,190.28 L225.07,189.79 L226.13,189.31 L227.19,188.83 L228.25,188.35 L229.32,187.88 L230.38,187.40 L231.44,186.93 L232.50,186.46 L233.56,185.99 L234.63,185.53 L235.69,185.06 L236.75,184.60 L237.81,184.14 L238.87,183.68 L239.94,183.23 L241.00,182.78 L242.06,182.32 L243.12,181.87 L244.19,181.43 L245.25,180.98 L246.31,180.54 L247.37,180.10 L248.43,179.66 L249.50,179.22 L250.56,178.78 L251.62,178.35 L252.68,177.91 L253.74,177.48 L254.81,177.05 L255.87,176.63 L256.93,176.20 L257.99,175.78 L259.05,175.35 L260.12,174.93 L261.18,174.51 L262.24,174.10 L263.30,173.68 L264.36,173.27 L265.43,172.86 L266.49,172.44 L267.55,172.04 L268.61,171.63 L269.68,171.22 L270.74,170.82 L271.80,170.42 L272.86,170.01 L273.92,169.61 L274.99,169.22 L276.05,168.82 L277.11,168.42 L278.17,168.03 L279.23,167.64 L280.30,167.25 L281.36,166.86 L282.42,166.47 L283.48,166.08 L284.54,165.70 L285.61,165.32 L286.67,164.93 L287.73,164.55 L288.79,164.17 L289.86,163.80 L290.92,163.42 L291.98,163.04 L293.04,162.67 L294.10,162.30 L295.17,161.93 L296.23,161.56 L297.29,161.19 L298.35,160.82 L299.41,160.45 L300.48,160.09 L301.54,159.73 L302.60,159.36 L303.66,159.00 L304.72,158.64 L305.79,158.29 L306.85,157.93 L307.91,157.57 L308.97,157.22 L310.03,156.86 L311.10,156.51 L312.16,156.16 L313.22,155.81 L314.28,155.46 L315.35,155.11 L316.41,154.77 L317.47,154.42 L318.53,154.08 L319.59,153.73 L320.66,153.39 L321.72,153.05 L322.78,152.71 L323.84,152.37 L324.90,152.04 L325.97,151.70 L327.03,151.36 L328.09,151.03 L329.15,150.70 L330.21,150.36 L331.28,150.03 L332.34,149.70 L333.40,149.37 L334.46,149.05 L335.52,148.72 L336.59,148.39 L337.65,148.07 L338.71,147.74 L339.77,147.42 L340.84,147.10 L341.90,146.78 L342.96,146.46 L344.02,146.14 L345.08,145.82 L346.15,145.51 L347.21,145.19 L348.27,144.88 L349.33,144.56 L350.39,144.25 L351.46,143.94 L352.52,143.63 L353.58,143.32 L354.64,143.01 L355.70,142.70 L356.77,142.39 L357.83,142.09 L358.89,141.78 L359.95,141.48 L361.02,141.17 L362.08,140.87 L363.14,140.57 L364.20,140.27 L365.26,139.97 L366.33,139.67 L367.39,139.37 L368.45,139.07 L369.51,138.77 L370.57,138.48 L371.64,138.18 L372.70,137.89 L373.76,137.60 L374.82,137.30 L375.88,137.01 L376.95,136.72 L378.01,136.43 L379.07,136.14 L380.13,135.86 L381.19,135.57 L382.26,135.28 L383.32,135.00 L384.38,134.71 L385.44,134.43 L386.51,134.14 L387.57,133.86 L388.63,133.58 L389.69,133.30 L390.75,133.02 L391.82,132.74 L392.88,132.46 L393.94,132.18 L395.00,131.91 L396.06,131.63 L397.13,131.36 L398.19,131.08 L399.25,130.81 L400.31,130.53 L401.37,130.26 L402.44,129.99 L403.50,129.72 L404.56,129.45 L405.62,129.18 L406.69,128.91 L407.75,128.64 L408.81,128.38 L409.87,128.11 L410.93,127.84 L412.00,127.58 L413.06,127.31 L414.12,127.05 L415.18,126.79 L416.24,126.52 L417.31,126.26 L418.37,126.00 L419.43,125.74 L420.49,125.48 L421.55,125.22 L422.62,124.97 L423.68,124.71 L424.74,124.45 L425.80,124.20 L426.86,123.94 L427.93,123.69 L428.99,123.43 L430.05,123.18 L431.11,122.93 L432.18,122.67 L433.24,122.42 L434.30,122.17 L435.36,121.92 L436.42,121.67 L437.49,121.42 L438.55,121.17 L439.61,120.93 L440.67,120.68 L441.73,120.43 L442.80,120.19 L443.86,119.94 L444.92,119.70 L445.98,119.45 L447.04,119.21 L448.11,118.97 L449.17,118.73 L450.23,118.49 L451.29,118.24 L452.35,118.00 L453.42,117.76 L454.48,117.53 L455.54,117.29 L456.60,117.05 L457.67,116.81 L458.73,116.58 L459.79,116.34 L460.85,116.11 L461.91,115.87 L462.98,115.64 L464.04,115.40 L465.10,115.17" fill="none" stroke="#ff0000" stroke-width="1.42"/>
<path d="M465.10,139.01 L464.30,139.18 L463.51,139.35 L462.71,139.51 L461.91,139.68 L461.12,139.85 L460.32,140.01 L459.52,140.18 L458.73,140.35 L457.93,140.52 L457.27,140.66 M452.67,141.63 L452.09,141.76 L451.29,141.93 L450.50,142.10 L449.70,142.27 L448.90,142.44 L448.11,142.61 L447.31,142.78 L446.51,142.95 L445.72,143.13 L444.92,143.30 L444.75,143.34 M440.16,144.34 L439.61,144.46 L438.81,144.63 L438.02,144.81 L437.22,144.98 L436.42,145.16 L435.63,145.33 L434.83,145.51 L434.03,145.69 L433.24,145.86 L432.44,146.04 L432.25,146.08 M427.67,147.11 L427.13,147.23 L426.33,147.41 L425.54,147.59 L424.74,147.77 L423.94,147.95 L423.15,148.13 L422.35,148.31 L421.55,148.49 L420.76,148.67 L419.96,148.86 L419.77,148.90 M415.19,149.95 L414.65,150.08 L413.85,150.26 L413.06,150.45 L412.26,150.63 L411.46,150.82 L410.67,151.00 L409.87,151.19 L409.07,151.37 L408.28,151.56 L407.48,151.75 L407.30,151.79 M402.72,152.87 L402.17,153.00 L401.37,153.19 L400.58,153.38 L399.78,153.58 L398.98,153.77 L398.19,153.96 L397.39,154.15 L396.60,154.34 L395.80,154.53 L395.00,154.73 L394.85,154.76 M390.28,155.87 L389.69,156.02 L388.90,156.21 L388.10,156.41 L387.30,156.61 L386.51,156.80 L385.71,157.00 L384.91,157.20 L384.12,157.39 L383.32,157.59 L382.52,157.79 L382.42,157.82 M377.86,158.96 L377.21,159.12 L376.42,159.32 L375.62,159.53 L374.82,159.73 L374.03,159.93 L373.23,160.13 L372.43,160.34 L371.64,160.54 L370.84,160.74 L370.04,160.95 L370.01,160.96 M365.46,162.13 L364.73,162.32 L363.94,162.53 L363.14,162.74 L362.34,162.95 L361.55,163.16 L360.75,163.37 L359.95,163.58 L359.16,163.79 L358.36,164.00 L357.62,164.19 M353.08,165.40 L352.52,165.56 L351.72,165.77 L350.93,165.99 L350.13,166.20 L349.33,166.42 L348.54,166.63 L347.74,166.85 L346.94,167.07 L346.15,167.28 L345.35,167.50 L345.26,167.53 M340.73,168.78 L340.04,168.97 L339.24,169.19 L338.45,169.41 L337.65,169.64 L336.85,169.86 L336.06,170.08 L335.26,170.31 L334.46,170.53 L333.67,170.76 L332.94,170.96 M328.42,172.25 L327.82,172.42 L327.03,172.65 L326.23,172.88 L325.44,173.11 L324.64,173.34 L323.84,173.58 L323.05,173.81 L322.25,174.04 L321.45,174.27 L320.66,174.51 L320.64,174.51 M316.13,175.85 L315.35,176.08 L314.55,176.32 L313.75,176.56 L312.96,176.79 L312.16,177.03 L311.36,177.27 L310.57,177.52 L309.77,177.76 L308.97,178.00 L308.37,178.18 M303.88,179.56 L303.13,179.79 L302.33,180.04 L301.54,180.29 L300.74,180.53 L299.94,180.78 L299.15,181.03 L298.35,181.28 L297.56,181.53 L296.76,181.78 L296.15,181.98 M291.67,183.40 L290.92,183.65 L290.12,183.90 L289.32,184.16 L288.53,184.42 L287.73,184.68 L286.93,184.94 L286.14,185.20 L285.34,185.46 L284.54,185.72 L283.97,185.91 M279.51,187.39 L278.97,187.57 L278.17,187.84 L277.38,188.10 L276.58,188.37 L275.78,188.64 L274.99,188.91 L274.19,189.18 L273.39,189.45 L272.60,189.73 L271.84,189.99 M267.39,191.52 L266.75,191.75 L265.96,192.02 L265.16,192.30 L264.36,192.58 L263.57,192.87 L262.77,193.15 L261.98,193.43 L261.18,193.71 L260.38,194.00 L259.76,194.22 M255.34,195.82 L254.54,196.11 L253.74,196.40 L252.95,196.69 L252.15,196.99 L251.35,197.28 L250.56,197.58 L249.76,197.87 L248.96,198.17 L248.17,198.47 L247.74,198.63 M243.34,200.29 L242.59,200.58 L241.80,200.88 L241.00,201.19 L240.20,201.50 L239.41,201.81 L238.61,202.12 L237.81,202.43 L237.02,202.74 L236.22,203.05 L235.79,203.22 M231.42,204.95 L230.64,205.27 L229.85,205.59 L229.05,205.91 L228.25,206.23 L227.46,206.56 L226.66,206.88 L225.86,207.21 L225.07,207.54 L224.27,207.86 L223.92,208.01 M219.58,209.82 L218.96,210.09 L218.16,210.42 L217.37,210.76 L216.57,211.10 L215.77,211.44 L214.98,211.79 L214.18,212.13 L213.38,212.48 L212.59,212.82 L212.14,213.02 M207.84,214.91 L207.28,215.17 L206.48,215.52 L205.68,215.88 L204.89,216.24 L204.09,216.60 L203.29,216.96 L202.50,217.33 L201.70,217.69 L200.90,218.06 L200.47,218.26 M196.21,220.25 L195.59,220.54 L194.80,220.92 L194.00,221.30 L193.20,221.68 L192.41,222.06 L191.61,222.45 L190.82,222.84 L190.02,223.22 L189.22,223.61 L188.91,223.77 M184.70,225.86 L183.91,226.25 L183.11,226.66 L182.32,227.06 L181.52,227.47 L180.73,227.88 L179.93,228.29 L179.13,228.70 L178.34,229.12 L177.54,229.53 L177.49,229.55 M173.34,231.76 L172.76,232.07 L171.96,232.50 L171.17,232.93 L170.37,233.37 L169.57,233.81 L168.78,234.24 L167.98,234.69 L167.18,235.13 L166.39,235.57 L166.24,235.66 M162.16,237.98 L161.61,238.30 L160.81,238.76 L160.01,239.23 L159.22,239.69 L158.42,240.16 L157.62,240.64 L156.83,241.11 L156.03,241.59 L155.24,242.07 L155.18,242.10 M151.18,244.56 L150.46,245.01 L149.66,245.51 L148.86,246.02 L148.07,246.52 L147.27,247.03 L146.47,247.55 L145.68,248.06 L144.88,248.58 L144.36,248.93 M140.45,251.53 L139.83,251.95 L139.04,252.49 L138.24,253.04 L137.45,253.59 L136.65,254.15 L135.85,254.71 L135.06,255.27 L134.26,255.84 L133.80,256.17 M130.01,258.94 L129.21,259.53 L128.42,260.12 L127.62,260.73 L126.82,261.33 L126.03,261.95 L125.23,262.56 L124.43,263.19 L123.64,263.81 L123.58,263.86 M119.92,266.81 L119.12,267.46 L118.33,268.13 L117.53,268.79 L116.73,269.47 L115.94,270.15 L115.14,270.84 L114.34,271.53 L113.74,272.06 M110.25,275.20 L109.57,275.83 L108.77,276.57 L107.97,277.32 L107.18,278.07 L106.38,278.84 L105.58,279.61 L104.79,280.39 L104.39,280.79 M101.09,284.13 L100.54,284.70 L99.74,285.54 L98.94,286.39 L98.15,287.25 L97.35,288.12 L96.55,289.00 L95.76,289.90 L95.59,290.08 M92.53,293.65 L91.78,294.55 L90.98,295.52 L90.18,296.50 L89.39,297.50 L88.59,298.52 L87.79,299.55 L87.47,299.97 M84.67,303.75 L84.08,304.59 L83.28,305.72 L82.48,306.88 L81.69,308.06 L80.89,309.26 L80.12,310.45 M77.63,314.44 L76.91,315.66 L76.11,317.02 L75.31,318.42 L74.52,319.86 L73.72,321.33 L73.64,321.48 M71.50,325.67 L70.80,327.10 L70.00,328.78 L69.21,330.53 L68.41,332.33 L68.11,333.02 M66.33,337.37 L65.67,339.09 L64.90,341.16 L64.18,343.19 L63.57,344.99 M62.15,349.46 L61.72,350.90 L61.20,352.73 L60.71,354.53 L60.25,356.28 L60.00,357.27 M58.92,361.85 L58.68,362.96 L58.34,364.54 L58.03,366.09 L57.74,367.61 L57.46,369.10 L57.34,369.79 M56.57,374.43 L56.39,375.65 L56.20,376.97 L56.02,378.27 L55.85,379.53 L55.69,380.77 L55.54,381.99 L55.49,382.46 M54.98,387.13 L54.89,388.06 L54.79,389.12 L54.70,390.16 L54.61,391.18 L54.53,392.18 L54.46,393.16 L54.38,394.11 L54.32,395.05 L54.31,395.20 M54.01,399.89 L53.98,400.54 L53.94,401.35 L53.90,402.13 L53.86,402.90 L53.82,403.65 L53.79,404.39 L53.76,405.11 L53.73,405.82 L53.71,406.51 L53.68,407.19 L53.66,407.85 L53.65,407.98 M53.51,412.68 L53.50,413.22 L53.49,413.75 L53.48,414.28 L53.47,414.79 L53.46,415.29 L53.45,415.79 L53.44,416.27 L53.43,416.74 L53.42,417.20 L53.41,417.65 L53.41,418.09 L53.40,418.53 L53.39,418.95 L53.39,419.37 L53.38,419.77 L53.38,420.17 L53.37,420.56 L53.37,420.78 " fill="none" stroke="#ff0000" stroke-width="1.42"/>
<path d="M465.10,170.41 L464.83,170.46 L464.57,170.50 L464.31,170.55 M462.15,170.94 L461.38,171.08 L460.67,171.21 M458.51,171.60 L457.93,171.70 L457.13,171.85 L457.03,171.87 M454.87,172.27 L454.21,172.39 L453.42,172.53 L453.39,172.54 M451.23,172.94 L450.50,173.07 L449.75,173.21 M447.59,173.61 L447.04,173.71 L446.25,173.86 L446.12,173.89 M443.95,174.29 L443.33,174.41 L442.53,174.56 L442.48,174.57 M440.32,174.98 L439.61,175.11 L438.84,175.26 M436.68,175.67 L435.89,175.82 L435.21,175.95 M433.05,176.36 L432.44,176.48 L431.64,176.63 L431.58,176.65 M429.42,177.06 L428.72,177.20 L427.94,177.35 M425.78,177.77 L425.01,177.92 L424.31,178.06 M422.15,178.48 L421.55,178.60 L420.76,178.76 L420.68,178.77 M418.52,179.20 L417.84,179.34 L417.05,179.49 M414.89,179.92 L414.12,180.08 L413.42,180.22 M411.27,180.65 L410.67,180.77 L409.87,180.94 L409.80,180.95 M407.64,181.39 L406.95,181.53 L406.17,181.69 M404.02,182.13 L403.23,182.29 L402.55,182.43 M400.39,182.88 L399.78,183.00 L398.98,183.17 L398.92,183.18 M396.77,183.63 L396.06,183.78 L395.30,183.94 M393.15,184.39 L392.61,184.50 L391.82,184.67 L391.68,184.70 M389.53,185.16 L388.90,185.29 L388.10,185.46 L388.06,185.47 M385.91,185.93 L385.18,186.09 L384.44,186.24 M382.29,186.71 L381.73,186.83 L380.93,187.00 L380.83,187.03 M378.68,187.49 L378.01,187.64 L377.21,187.81 M375.06,188.29 L374.29,188.46 L373.60,188.61 M371.45,189.09 L370.84,189.22 L370.04,189.40 L369.99,189.41 M367.84,189.89 L367.12,190.06 L366.38,190.22 M364.23,190.71 L363.67,190.83 L362.87,191.02 L362.77,191.04 M360.62,191.53 L359.95,191.68 L359.16,191.86 M357.02,192.36 L356.24,192.54 L355.56,192.70 M353.41,193.19 L352.78,193.34 L351.99,193.53 L351.95,193.54 M349.81,194.04 L349.07,194.21 L348.35,194.38 M346.21,194.89 L345.61,195.03 L344.82,195.22 L344.75,195.24 M342.61,195.75 L341.90,195.92 L341.15,196.10 M339.02,196.62 L338.45,196.76 L337.65,196.95 L337.56,196.97 M335.42,197.50 L334.73,197.67 L333.96,197.85 M331.83,198.38 L331.28,198.52 L330.48,198.72 L330.37,198.74 M328.24,199.28 L327.56,199.45 L326.78,199.64 M324.65,200.18 L324.11,200.32 L323.31,200.52 L323.20,200.55 M321.06,201.09 L320.39,201.26 L319.61,201.46 M317.48,202.01 L316.94,202.15 L316.14,202.36 L316.03,202.39 M313.90,202.94 L313.22,203.12 L312.45,203.32 M310.32,203.88 L309.77,204.03 L308.97,204.24 L308.87,204.27 M306.74,204.83 L306.05,205.02 L305.30,205.22 M303.17,205.79 L302.60,205.95 L301.80,206.16 L301.72,206.18 M299.60,206.76 L298.88,206.96 L298.15,207.16 M296.03,207.74 L295.43,207.91 L294.63,208.13 L294.59,208.14 M292.47,208.73 L291.71,208.95 L291.02,209.14 M288.91,209.74 L288.26,209.92 L287.47,210.15 L287.46,210.15 M285.35,210.75 L284.81,210.90 L284.01,211.13 L283.91,211.16 M281.79,211.77 L281.09,211.98 L280.35,212.19 M278.24,212.81 L277.64,212.99 L276.84,213.22 L276.80,213.23 M274.69,213.86 L273.92,214.09 L273.25,214.29 M271.15,214.92 L270.47,215.12 L269.71,215.35 M267.61,215.99 L267.02,216.17 L266.22,216.42 L266.17,216.43 M264.07,217.08 L263.30,217.32 L262.64,217.52 M260.54,218.18 L259.85,218.39 L259.11,218.63 M257.01,219.29 L256.40,219.48 L255.60,219.74 L255.58,219.74 M253.48,220.41 L252.95,220.59 L252.15,220.84 L252.06,220.88 M249.96,221.55 L249.23,221.79 L248.54,222.02 M246.45,222.71 L245.78,222.93 L245.02,223.18 M242.94,223.88 L242.33,224.08 L241.53,224.35 L241.52,224.36 M239.43,225.06 L238.87,225.25 L238.08,225.52 L238.01,225.55 M235.93,226.26 L235.16,226.53 L234.51,226.75 M232.44,227.48 L231.71,227.73 L231.02,227.98 M228.95,228.71 L228.25,228.96 L227.54,229.21 M225.47,229.96 L224.80,230.20 L224.06,230.47 M221.99,231.22 L221.35,231.46 L220.58,231.74 M218.52,232.51 L217.90,232.74 L217.11,233.03 M215.06,233.81 L214.45,234.04 L213.65,234.34 M211.60,235.13 L210.99,235.37 L210.20,235.67 M208.15,236.47 L207.54,236.71 L206.75,237.02 M204.71,237.83 L204.09,238.08 L203.32,238.39 M201.28,239.21 L200.64,239.47 L199.89,239.78 M197.85,240.61 L197.19,240.89 L196.47,241.19 M194.44,242.04 L193.74,242.33 L193.06,242.62 M191.03,243.48 L190.28,243.80 L189.65,244.08 M187.64,244.95 L187.10,245.19 L186.30,245.54 L186.26,245.55 M184.25,246.44 L183.65,246.71 L182.88,247.06 M180.87,247.96 L180.19,248.27 L179.51,248.58 M177.51,249.50 L176.74,249.86 L176.15,250.13 M174.16,251.07 L173.56,251.36 L172.80,251.71 M170.82,252.66 L170.10,253.01 L169.47,253.32 M167.50,254.29 L166.92,254.57 L166.15,254.95 M164.18,255.94 L163.47,256.30 L162.85,256.61 M160.89,257.62 L160.28,257.93 L159.56,258.31 M157.61,259.33 L156.83,259.74 L156.28,260.03 M154.34,261.07 L153.64,261.45 L153.02,261.78 M151.10,262.84 L150.46,263.20 L149.78,263.57 M147.87,264.65 L147.27,264.99 L146.56,265.39 M144.66,266.49 L144.08,266.83 L143.36,267.25 M141.47,268.37 L140.90,268.72 L140.19,269.15 M138.31,270.29 L137.71,270.65 L137.03,271.08 M135.16,272.24 L134.52,272.65 L133.90,273.05 M132.05,274.24 L131.34,274.70 L130.79,275.06 M128.96,276.27 L128.42,276.63 L127.71,277.11 M125.89,278.35 L125.23,278.80 L124.66,279.20 M122.86,280.47 L122.31,280.86 L121.64,281.34 M119.86,282.63 L119.66,282.78 L119.39,282.98 L119.12,283.17 L118.86,283.37 L118.65,283.52 M116.89,284.84 L116.73,284.96 L116.47,285.16 L116.20,285.37 L115.94,285.57 L115.70,285.75 M113.96,287.10 L113.81,287.22 L113.55,287.42 L113.28,287.63 L113.02,287.84 L112.78,288.03 M111.07,289.41 L110.89,289.55 L110.63,289.77 L110.36,289.98 L110.10,290.20 L109.91,290.36 M108.22,291.76 L107.97,291.97 L107.71,292.20 L107.44,292.42 L107.18,292.65 L107.07,292.73 M105.41,294.17 L105.32,294.25 L105.05,294.49 L104.79,294.72 L104.52,294.96 L104.28,295.16 M102.65,296.64 L102.40,296.86 L102.13,297.11 L101.87,297.35 L101.60,297.60 L101.54,297.65 M99.94,299.15 L99.74,299.34 L99.48,299.59 L99.21,299.84 L98.94,300.10 L98.85,300.19 M97.27,301.72 L97.09,301.91 L96.82,302.17 L96.55,302.44 L96.29,302.70 L96.21,302.78 M94.67,304.35 L94.43,304.60 L94.16,304.87 L93.90,305.15 L93.63,305.43 L93.63,305.43 M92.12,307.03 L92.04,307.12 L91.78,307.41 L91.51,307.70 L91.24,307.99 L91.11,308.14 M89.64,309.78 L89.39,310.06 L89.12,310.37 L88.85,310.67 L88.65,310.90 M87.22,312.58 L87.00,312.84 L86.73,313.16 L86.46,313.48 L86.26,313.73 M84.87,315.43 L84.61,315.77 L84.34,316.10 L84.08,316.44 L83.94,316.61 M82.59,318.35 L82.48,318.50 L82.22,318.85 L81.95,319.20 L81.69,319.55 M80.39,321.32 L80.36,321.37 L80.09,321.74 L79.83,322.12 L79.56,322.49 L79.52,322.55 M78.27,324.36 L78.23,324.41 L77.97,324.81 L77.70,325.20 L77.44,325.60 L77.44,325.60 M76.23,327.44 L76.11,327.64 L75.84,328.06 L75.58,328.48 L75.43,328.71 M74.28,330.59 L74.25,330.64 L73.99,331.08 L73.72,331.53 L73.52,331.88 M72.42,333.78 L72.39,333.83 L72.13,334.30 L71.86,334.78 L71.69,335.09 M70.65,337.03 L70.53,337.24 L70.27,337.75 L70.00,338.27 L69.95,338.36 M68.97,340.33 L68.94,340.38 L68.67,340.92 L68.41,341.47 L68.31,341.68 M67.38,343.67 L67.35,343.75 L67.08,344.33 L67.06,344.38 L66.77,345.03 L66.77,345.04 M65.89,347.06 L65.67,347.60 L65.40,348.23 L65.32,348.44 M64.50,350.49 L64.41,350.71 L64.18,351.32 L63.96,351.89 M63.20,353.95 L63.08,354.30 L62.87,354.89 L62.70,355.37 M62.00,357.45 L61.90,357.76 L61.72,358.32 L61.54,358.88 L61.54,358.88 M60.90,360.98 L60.87,361.07 L60.71,361.61 L60.55,362.15 L60.47,362.42 M59.88,364.54 L59.82,364.78 L59.68,365.29 L59.54,365.81 L59.50,365.99 M58.96,368.12 L58.91,368.31 L58.79,368.80 L58.68,369.29 L58.61,369.58 M58.12,371.73 L58.03,372.15 L57.93,372.61 L57.83,373.07 L57.81,373.19 M57.37,375.35 L57.29,375.78 L57.20,376.22 L57.12,376.66 L57.09,376.82 M56.70,378.99 L56.66,379.21 L56.59,379.63 L56.52,380.04 L56.45,380.46 L56.45,380.47 M56.11,382.64 L56.07,382.86 L56.02,383.25 L55.96,383.64 L55.90,384.03 L55.89,384.12 M55.59,386.30 L55.54,386.65 L55.49,387.02 L55.45,387.38 L55.40,387.74 L55.40,387.79 M55.13,389.98 L55.11,390.19 L55.07,390.53 L55.03,390.87 L55.00,391.21 L54.97,391.47 M54.75,393.65 L54.67,394.44 L54.61,395.15 M54.42,397.34 L54.36,398.03 L54.30,398.84 M54.14,401.03 L54.10,401.60 L54.05,402.38 L54.04,402.53 M53.92,404.72 L53.88,405.33 L53.85,406.03 L53.84,406.22 M53.74,408.42 L53.71,408.90 L53.69,409.52 L53.67,409.92 M53.59,412.12 L53.58,412.64 L53.56,413.19 L53.55,413.61 M53.49,415.81 L53.48,416.24 L53.47,416.71 L53.46,417.17 L53.45,417.31 M53.41,419.51 L53.40,419.88 L53.40,420.27 L53.39,420.66 L53.39,421.01 M53.36,423.21 L53.35,423.47 L53.35,423.79 L53.35,424.11 L53.35,424.41 L53.34,424.71 L53.34,424.71 " fill="none" stroke="#ff0000" stroke-width="1.42"/>
<path d="M53.35,425.35 L53.35,424.97 L53.36,424.58 L53.36,424.17 L53.37,423.76 L53.38,423.33 L53.38,422.89 L53.39,422.44 L53.40,421.97 L53.41,421.49 L53.42,421.00 L53.43,420.49 L53.44,419.97 L53.45,419.43 L53.46,418.88 L53.48,418.32 L53.49,417.73 L53.51,417.13 L53.53,416.52 L53.55,415.88 L53.57,415.23 L53.59,414.56 L53.62,413.87 L53.65,413.16 L53.68,412.42 L53.71,411.67 L53.75,410.90 L53.79,410.11 L53.84,409.29 L53.88,408.45 L53.94,407.58 L53.99,406.69 L54.05,405.78 L54.12,404.84 L54.19,403.87 L54.27,402.88 L54.36,401.86 L54.46,400.81 L54.56,399.73 L54.67,398.62 L54.79,397.48 L54.93,396.30 L55.07,395.10 L55.23,393.86 L55.40,392.58 L55.59,391.27 L55.79,389.93 L56.02,388.54 L56.26,387.12 L56.52,385.66 L56.81,384.16 L57.12,382.61 L57.46,381.03 L57.83,379.40 L58.24,377.72 L58.68,376.00 L59.16,374.24 L59.68,372.42 L60.25,370.56 L60.87,368.64 L61.54,366.68 L62.28,364.66 L63.08,362.59 L63.95,360.46 L64.90,358.28 L65.93,356.03 L67.06,353.73 L67.88,352.14 L68.94,350.17 L70.00,348.28 L71.06,346.48 L72.13,344.76 L73.19,343.10 L74.25,341.50 L75.31,339.96 L76.37,338.47 L77.44,337.03 L78.50,335.63 L79.56,334.27 L80.62,332.95 L81.69,331.67 L82.75,330.42 L83.81,329.20 L84.87,328.01 L85.93,326.85 L87.00,325.72 L88.06,324.61 L89.12,323.53 L90.18,322.47 L91.24,321.43 L92.31,320.41 L93.37,319.41 L94.43,318.43 L95.49,317.47 L96.55,316.52 L97.62,315.59 L98.68,314.68 L99.74,313.78 L100.80,312.90 L101.87,312.03 L102.93,311.18 L103.99,310.34 L105.05,309.51 L106.11,308.69 L107.18,307.89 L108.24,307.10 L109.30,306.31 L110.36,305.54 L111.42,304.78 L112.49,304.03 L113.55,303.29 L114.61,302.56 L115.67,301.84 L116.73,301.13 L117.80,300.42 L118.86,299.72 L119.92,299.04 L120.98,298.36 L122.04,297.69 L123.11,297.02 L124.17,296.36 L125.23,295.71 L126.29,295.07 L127.36,294.44 L128.42,293.81 L129.48,293.18 L130.54,292.57 L131.60,291.96 L132.67,291.36 L133.73,290.76 L134.79,290.17 L135.85,289.58 L136.91,289.00 L137.98,288.42 L139.04,287.85 L140.10,287.29 L141.16,286.73 L142.22,286.18 L143.29,285.63 L144.35,285.08 L145.41,284.54 L146.47,284.01 L147.53,283.48 L148.60,282.95 L149.66,282.43 L150.72,281.91 L151.78,281.40 L152.85,280.89 L153.91,280.38 L154.97,279.88 L156.03,279.38 L157.09,278.89 L158.16,278.40 L159.22,277.91 L160.28,277.43 L161.34,276.95 L162.40,276.48 L163.47,276.01 L164.53,275.54 L165.59,275.07 L166.65,274.61 L167.71,274.15 L168.78,273.70 L169.84,273.25 L170.90,272.80 L171.96,272.35 L173.03,271.91 L174.09,271.47 L175.15,271.03 L176.21,270.60 L177.27,270.17 L178.34,269.74 L179.40,269.32 L180.46,268.89 L181.52,268.47 L182.58,268.06 L183.65,267.64 L184.71,267.23 L185.77,266.82 L186.83,266.41 L187.89,266.01 L188.96,265.61 L190.02,265.21 L191.08,264.81 L192.14,264.41 L193.20,264.02 L194.27,263.63 L195.33,263.24 L196.39,262.86 L197.45,262.47 L198.52,262.09 L199.58,261.71 L200.64,261.34 L201.70,260.96 L202.76,260.59 L203.83,260.22 L204.89,259.85 L205.95,259.48 L207.01,259.12 L208.07,258.75 L209.14,258.39 L210.20,258.03 L211.26,257.67 L212.32,257.32 L213.38,256.96 L214.45,256.61 L215.51,256.26 L216.57,255.91 L217.63,255.57 L218.69,255.22 L219.76,254.88 L220.82,254.54 L221.88,254.20 L222.94,253.86 L224.01,253.52 L225.07,253.19 L226.13,252.86 L227.19,252.53 L228.25,252.20 L229.32,251.87 L230.38,251.54 L231.44,251.21 L232.50,250.89 L233.56,250.57 L234.63,250.25 L235.69,249.93 L236.75,249.61 L237.81,249.29 L238.87,248.98 L239.94,248.67 L241.00,248.35 L242.06,248.04 L243.12,247.73 L244.19,247.43 L245.25,247.12 L246.31,246.81 L247.37,246.51 L248.43,246.21 L249.50,245.90 L250.56,245.60 L251.62,245.31 L252.68,245.01 L253.74,244.71 L254.81,244.42 L255.87,244.12 L256.93,243.83 L257.99,243.54 L259.05,243.25 L260.12,242.96 L261.18,242.67 L262.24,242.38 L263.30,242.10 L264.36,241.81 L265.43,241.53 L266.49,241.25 L267.55,240.97 L268.61,240.69 L269.68,240.41 L270.74,240.13 L271.80,239.86 L272.86,239.58 L273.92,239.30 L274.99,239.03 L276.05,238.76 L277.11,238.49 L278.17,238.22 L279.23,237.95 L280.30,237.68 L281.36,237.41 L282.42,237.15 L283.48,236.88 L284.54,236.62 L285.61,236.35 L286.67,236.09 L287.73,235.83 L288.79,235.57 L289.86,235.31 L290.92,235.05 L291.98,234.79 L293.04,234.54 L294.10,234.28 L295.17,234.02 L296.23,233.77 L297.29,233.52 L298.35,233.26 L299.41,233.01 L300.48,232.76 L301.54,232.51 L302.60,232.26 L303.66,232.02 L304.72,231.77 L305.79,231.52 L306.85,231.28 L307.91,231.03 L308.97,230.79 L310.03,230.55 L311.10,230.30 L312.16,230.06 L313.22,229.82 L314.28,229.58 L315.35,229.34 L316.41,229.11 L317.47,228.87 L318.53,228.63 L319.59,228.40 L320.66,228.16 L321.72,227.93 L322.78,227.69 L323.84,227.46 L324.90,227.23 L325.97,227.00 L327.03,226.77 L328.09,226.54 L329.15,226.31 L330.21,226.08 L331.28,225.85 L332.34,225.62 L333.40,225.40 L334.46,225.17 L335.52,224.95 L336.59,224.72 L337.65,224.50 L338.71,224.28 L339.77,224.05 L340.84,223.83 L341.90,223.61 L342.96,223.39 L344.02,223.17 L345.08,222.95 L346.15,222.73 L347.21,222.52 L348.27,222.30 L349.33,222.08 L350.39,221.87 L351.46,221.65 L352.52,221.44 L353.58,221.23 L354.64,221.01 L355.70,220.80 L356.77,220.59 L357.83,220.38 L358.89,220.17 L359.95,219.96 L361.02,219.75 L362.08,219.54 L363.14,219.33 L364.20,219.12 L365.26,218.91 L366.33,218.71 L367.39,218.50 L368.45,218.30 L369.51,218.09 L370.57,217.89 L371.64,217.68 L372.70,217.48 L373.76,217.28 L374.82,217.08 L375.88,216.88 L376.95,216.67 L378.01,216.47 L379.07,216.27 L380.13,216.08 L381.19,215.88 L382.26,215.68 L383.32,215.48 L384.38,215.28 L385.44,215.09 L386.51,214.89 L387.57,214.70 L388.63,214.50 L389.69,214.31 L390.75,214.11 L391.82,213.92 L392.88,213.73 L393.94,213.53 L395.00,213.34 L396.06,213.15 L397.13,212.96 L398.19,212.77 L399.25,212.58 L400.31,212.39 L401.37,212.20 L402.44,212.01 L403.50,211.82 L404.56,211.64 L405.62,211.45 L406.69,211.26 L407.75,211.08 L408.81,210.89 L409.87,210.70 L410.93,210.52 L412.00,210.34 L413.06,210.15 L414.12,209.97 L415.18,209.79 L416.24,209.60 L417.31,209.42 L418.37,209.24 L419.43,209.06 L420.49,208.88 L421.55,208.70 L422.62,208.52 L423.68,208.34 L424.74,208.16 L425.80,207.98 L426.86,207.80 L427.93,207.63 L428.99,207.45 L430.05,207.27 L431.11,207.09 L432.18,206.92 L433.24,206.74 L434.30,206.57 L435.36,206.39 L436.42,206.22 L437.49,206.05 L438.55,205.87 L439.61,205.70 L440.67,205.53 L441.73,205.35 L442.80,205.18 L443.86,205.01 L444.92,204.84 L445.98,204.67 L447.04,204.50 L448.11,204.33 L449.17,204.16 L450.23,203.99 L451.29,203.82 L452.35,203.65 L453.42,203.48 L454.48,203.32 L455.54,203.15 L456.60,202.98 L457.67,202.82 L458.73,202.65 L459.79,202.48 L460.85,202.32 L461.91,202.15 L462.98,201.99 L464.04,201.83 L465.10,201.66" fill="none" stroke="#00ff00" stroke-width="1.42"/>
</g>
<g stroke="#ff00ff" stroke-width="1.42" fill="none">
<path d="M80.6,301.35H116.5"/>
<path d="M148.6,232.7H300.6"/>
</g>
<g stroke-width="1.3" fill="none">
<path d="M218,301.35H300.35" stroke="#00ffff"/>
<path d="M218,328.8H300.35" stroke="#ff0000"/>
<path d="M218,356.25H300.35" stroke="#00ff00"/>
</g>
<text class="sf" transform="translate(18.1,32.46) rotate(0.03) scale(1.1317,0.98)" font-size="18px" fill="#000" stroke="#000" stroke-width="0.35" stroke-linejoin="round">1.5</text>
<text class="sf" transform="translate(34.36,169.95) rotate(0.03) scale(0.8923,1.0)" font-size="18px" fill="#000" stroke="#000" stroke-width="0.35" stroke-linejoin="round">1</text>
<text class="ss" transform="translate(17.47,307.19) rotate(0.03) scale(1.1101,1.0208)" font-size="17px" fill="#000">0.5</text>
<text class="ss" transform="translate(32.81,444.49) rotate(0.03) scale(1.1875,1.0208)" font-size="17px" fill="#000">0</text>
<text class="ss" transform="translate(47.82,459.59) rotate(0.03) scale(1.175,1.0208)" font-size="17px" fill="#000">0</text>
<text class="ss" transform="translate(177.26,459.59) rotate(0.03) scale(1.1191,1.0208)" font-size="17px" fill="#000">0.5</text>
<text class="sf" transform="translate(323.39,459.6) rotate(0.03) scale(0.9385,1.0)" font-size="18px" fill="#000" stroke="#000" stroke-width="0.35" stroke-linejoin="round">1</text>
<text class="sf" transform="translate(452.47,459.16) rotate(0.03) scale(1.1512,0.98)" font-size="18px" fill="#000" stroke="#000" stroke-width="0.35" stroke-linejoin="round">1.5</text>
<text class="sf" transform="translate(236.16,482.46) rotate(0.03) scale(0.7538,0.9615)" font-size="19px" fill="#000" stroke="#000" stroke-width="0.5" stroke-linejoin="round">M</text>
<text class="sf" transform="translate(261.01,482.46) rotate(0.03) scale(0.7508,0.9615)" font-size="19px" fill="#000" stroke="#000" stroke-width="0.5" stroke-linejoin="round">M</text>
<text class="sf" transform="translate(16.5,253.9) rotate(-90) translate(-0.1,-0.23) rotate(0.03) scale(0.816,0.9231)" font-size="19px" fill="#000" stroke="#000" stroke-width="0.45" stroke-linejoin="round">R</text>
<text class="sf" transform="translate(16.5,253.9) rotate(-90) translate(22.8,-0.23) rotate(0.03) scale(0.816,0.9231)" font-size="19px" fill="#000" stroke="#000" stroke-width="0.45" stroke-linejoin="round">R</text>
<path d="M250.2,485.7L259.3,468.6M2.5,232.4L19.3,241.6" stroke="#000" stroke-width="1.3" fill="none"/>
<g stroke="#000" stroke-width="1.15" fill="none"><circle cx="278.25" cy="483.75" r="3.65"/><path d="M274.6,483.75h7.3M278.25,480.1v7.3"/></g>
<g stroke="#000" stroke-width="1.15" fill="none"><circle cx="17.8" cy="215.4" r="3.55"/><path d="M14.25,215.4h7.1M17.8,211.85v7.1"/></g>
<text class="sf" transform="translate(190.27,224.56) rotate(0.03) scale(1.1638,0.9684)" font-size="14px" font-weight="bold" fill="#000">0.75</text>
<text class="sf" transform="translate(224.69,224.6) rotate(0.03) scale(0.84,0.973)" font-size="14px" font-weight="bold" fill="#000">R</text>
<text class="sf" transform="translate(240.02,224.6) rotate(0.03) scale(1.1054,1.0256)" font-size="14px" font-weight="bold" fill="#000">planet</text>
<text class="sf" transform="translate(94.63,293.56) rotate(0.03) scale(1.1333,0.9684)" font-size="14px" font-weight="bold" fill="#000">0.5</text>
<text class="sf" transform="translate(121.09,293.6) rotate(0.03) scale(0.84,0.973)" font-size="14px" font-weight="bold" fill="#000">R</text>
<text class="sf" transform="translate(136.02,293.6) rotate(0.03) scale(1.1189,1.0154)" font-size="14px" font-weight="bold" fill="#000">planet</text>
<text class="sf" transform="translate(314.6,301.5) rotate(0.03) scale(1.1222,0.9846)" font-size="14px" font-weight="bold" fill="#00ffff">water,</text>
<text class="sf" transform="translate(361.73,301.5) rotate(0.03) scale(1.139,0.9846)" font-size="14px" font-weight="bold" fill="#00ffff">rock,</text>
<text class="sf" transform="translate(402.83,301.5) rotate(0.03) scale(1.0887,0.9846)" font-size="14px" font-weight="bold" fill="#00ffff">iron</text>
<text class="sf" transform="translate(314.03,329.2) rotate(0.03) scale(1.139,0.9744)" font-size="14px" font-weight="bold" fill="#ff0000">rock,</text>
<text class="sf" transform="translate(354.83,329.2) rotate(0.03) scale(1.0969,0.9744)" font-size="14px" font-weight="bold" fill="#ff0000">iron</text>
<text class="sf" transform="translate(314.32,356.5) rotate(0.03) scale(1.101,0.9744)" font-size="14px" font-weight="bold" fill="#00ff00">iron</text>
<text class="sf" transform="translate(348.36,356.5) rotate(0.03) scale(1.084,0.9744)" font-size="14px" font-weight="bold" fill="#00ff00">only</text>
<g stroke="#000" stroke-width="1.1" fill="none"><circle cx="236.55" cy="225.3" r="2.5"/><path d="M234.05,225.3h5.0M236.55,222.8v5.0"/></g>
<g stroke="#000" stroke-width="1.1" fill="none"><circle cx="132.6" cy="294.6" r="2.5"/><path d="M130.1,294.6h5.0M132.6,292.1v5.0"/></g>

</svg>
</body></html>
